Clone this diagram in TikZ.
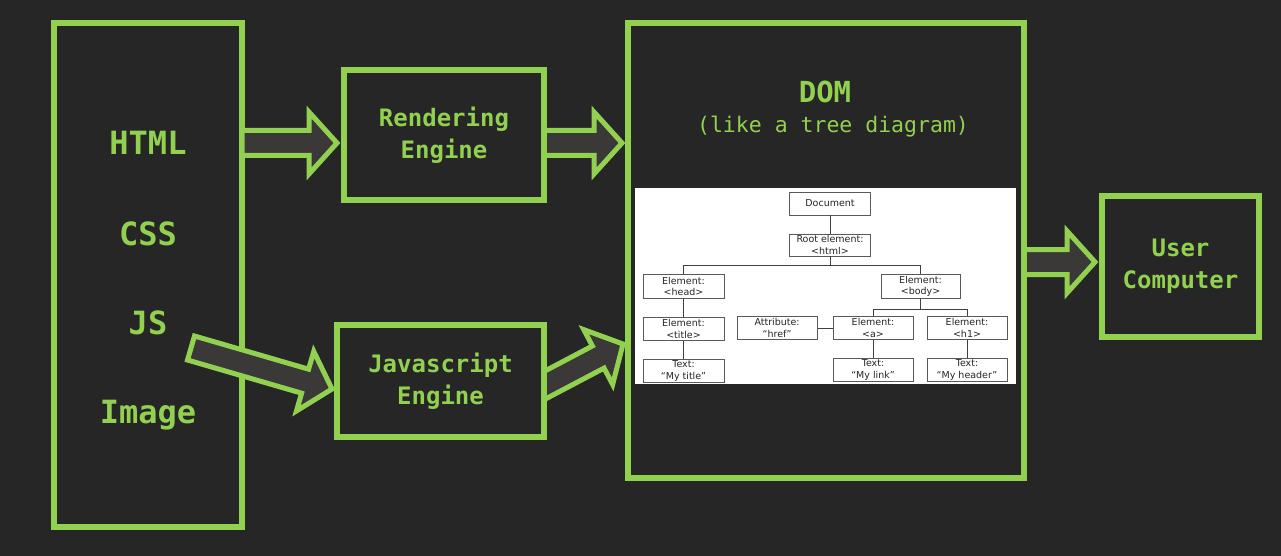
\documentclass[tikz,border=0pt]{standalone}
\usepackage{fontspec}
\newfontfamily\codefont{DejaVu Sans Mono}
\newfontfamily\treefont{DejaVu Sans}
\usetikzlibrary{calc,positioning}
\definecolor{bg}{HTML}{262626}
\definecolor{lime}{HTML}{92D050}
\definecolor{shaft}{HTML}{3B3838}
\tikzstyle{stage} = [rectangle, draw=lime, line width=6pt, fill=bg, text=lime, align=center, font=\codefont\bfseries\fontsize{24}{32}\selectfont]
\tikzstyle{src} = [anchor=base, text=lime, font=\codefont\bfseries\fontsize{32}{36}\selectfont]
\tikzstyle{barrow} = [draw=lime, fill=shaft, line width=5pt, line join=miter]
\tikzstyle{tbox} = [rectangle, draw=black!65, fill=white, line width=0.9pt, align=center, inner sep=0.5pt, minimum width=81pt, minimum height=23.5pt, text=black!85, font=\treefont\fontsize{9.5}{11.5}\selectfont]
\tikzstyle{tline} = [draw=black!75, line width=0.9pt]

% block arrow from #1 to #2
\newcommand{\blockarrow}[2]{%
  \coordinate (#1-#2-hd) at ($(#2)!28pt!(#1)$);
  \filldraw [barrow] ($(#1)!12.5pt!90:(#2)$) -- ($(#1-#2-hd)!12.5pt!90:(#2)$)
    -- ($(#1-#2-hd)!31pt!90:(#2)$) -- (#2) -- ($(#1-#2-hd)!31pt!-90:(#2)$)
    -- ($(#1-#2-hd)!12.5pt!-90:(#2)$) -- ($(#1)!12.5pt!-90:(#2)$) -- cycle;
}

\begin{document}
\begin{tikzpicture}[x=1pt, y=-1pt]
    \fill [bg] (0,0) rectangle (1281,556);

    \node (lang) [stage, minimum width=188pt, minimum height=504pt] at (148,275) {};
    \node (html) [src] at (148,155) {HTML};
    \node (css) [src] at (148,245) {CSS};
    \node (js) [src] at (148,334) {JS};
    \node (img) [src] at (148,423) {Image};

    \coordinate (lang-r) at (242,143);
    \coordinate (rend-l) at (337,143);
    \coordinate (rend-r) at (544,143);
    \coordinate (dom-l) at (622,143);
    \coordinate (lang-js) at (191,348);
    \coordinate (jsen-l) at (332,389);
    \coordinate (jsen-r) at (530,393);
    \coordinate (dom-js) at (623,344);
    \coordinate (dom-r) at (1024,262);
    \coordinate (user-l) at (1095,262);

    \blockarrow{lang-r}{rend-l}
    \blockarrow{rend-r}{dom-l}
    \blockarrow{lang-js}{jsen-l}
    \blockarrow{jsen-r}{dom-js}
    \blockarrow{dom-r}{user-l}

    \node (rend) [stage, minimum width=200pt, minimum height=130pt] at (444,135) {Rendering\\Engine};
    \node (jsen) [stage, minimum width=207pt, minimum height=112pt] at (440.5,381) {Javascript\\Engine};
    \node (dom) [stage, minimum width=396pt, minimum height=455pt] at (826,250.5) {};
    \node (user) [stage, minimum width=157pt, minimum height=141pt] at (1180.5,266.5) {User\\Computer};

    \node (domlbl) [text=lime, font=\codefont\bfseries\fontsize{29}{32}\selectfont] at (825,92) {DOM};
    \node (domsub) [text=lime, font=\codefont\fontsize{21.5}{24}\selectfont] at (833,127) {(like a tree diagram)};

    % tree picture
    \node (tree) [fill=white, minimum width=381pt, minimum height=196pt, inner sep=0pt] at (825.5,286) {};
    \node (doc) [tbox, minimum height=23pt] at (830,203.5) {Document};
    \node (root) [tbox, minimum height=22pt] at (830,245) {Root element:\\<html>};
    \node (head) [tbox] at (683.5,286.5) {Element:\\<head>};
    \node (body) [tbox, minimum width=79pt] at (920.5,286.5) {Element:\\<body>};
    \node (title) [tbox, below=18pt of head] {Element:\\<title>};
    \node (a) [tbox, minimum width=80pt] at (873,328) {Element:\\<a>};
    \node (h1) [tbox, minimum width=80pt] at (967,328) {Element:\\<h1>};
    \node (attr) [tbox, minimum width=80pt, left=15pt of a] {Attribute:\\“href”};
    \node (ttext) [tbox, below=17.5pt of title] {Text:\\“My title”};
    \node (ltext) [tbox, minimum width=80pt, below=17.5pt of a] {Text:\\“My link”};
    \node (htext) [tbox, minimum width=80pt, below=17.5pt of h1] {Text:\\“My header”};

    \coordinate (rootbus) at (830,265);
    \coordinate (bodybus) at (920.5,309);
    \draw [tline] (doc) -- (root);
    \draw [tline] (root) -- (rootbus);
    \draw [tline] (rootbus) -| (head);
    \draw [tline] (rootbus) -| (body);
    \draw [tline] (body) -- (bodybus);
    \draw [tline] (bodybus) -| (a);
    \draw [tline] (bodybus) -| (h1);
    \draw [tline] (head) -- (title);
    \draw [tline] (title) -- (ttext);
    \draw [tline] (attr) -- (a);
    \draw [tline] (a) -- (ltext);
    \draw [tline] (h1) -- (htext);
\end{tikzpicture}
\end{document}
